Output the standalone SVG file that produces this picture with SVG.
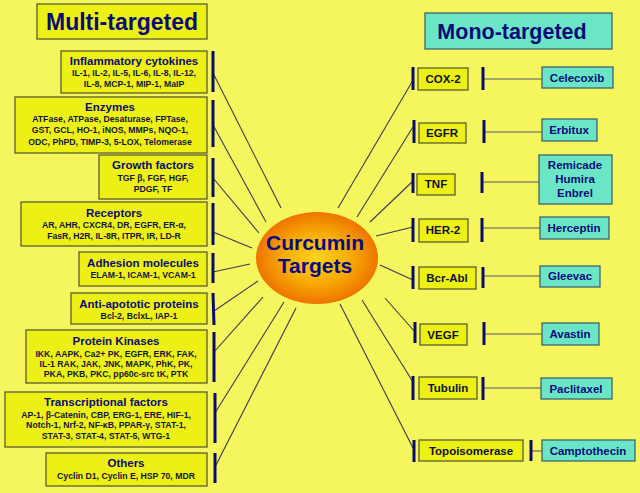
<svg xmlns="http://www.w3.org/2000/svg" width="640" height="493" viewBox="0 0 640 493">
<style>
text{font-family:"Liberation Sans",Arial,sans-serif;font-weight:bold;text-anchor:middle}
.yb{fill:#ecf014;stroke:#5c5c34;stroke-width:1.3}
.ab{fill:#6ae6c6;stroke:#3c6470;stroke-width:1.3}
.ttl{fill:#0b0b78;font-size:23px}
.h{fill:#0b0b70;font-size:11.5px}
.d{fill:#15153a;font-size:8.7px}
.r{fill:#101030;font-size:11.5px}
.m{fill:#0b0b78;font-size:11.5px}
.bar{stroke:#0a0a6a;stroke-width:3}
.ln{stroke:#3a3a55;stroke-width:1.1;fill:none}
.hl{stroke:#55556a;stroke-width:1.1}
</style>
<defs>
<radialGradient id="g" cx="0.5" cy="0.5" r="0.5">
<stop offset="0" stop-color="#fbd21c"/>
<stop offset="0.55" stop-color="#f7ab05"/>
<stop offset="1" stop-color="#ee7400"/>
</radialGradient>
</defs>
<rect width="640" height="493" fill="#f5f55e"/>

<g id="connectors">
<line class="ln" x1="213" y1="73" x2="281" y2="208"/>
<line class="ln" x1="213" y1="125" x2="266" y2="222"/>
<line class="ln" x1="213" y1="178" x2="259" y2="233"/>
<line class="ln" x1="213" y1="232" x2="252" y2="248"/>
<line class="ln" x1="213" y1="272" x2="250" y2="264"/>
<line class="ln" x1="214" y1="311" x2="258" y2="281"/>
<line class="ln" x1="214" y1="352" x2="263" y2="297"/>
<line class="ln" x1="215" y1="413" x2="284" y2="302"/>
<line class="ln" x1="215" y1="467" x2="296" y2="308"/>
<line class="ln" x1="338" y1="208" x2="412" y2="82"/>
<line class="ln" x1="357" y1="217" x2="413" y2="127"/>
<line class="ln" x1="370" y1="222" x2="412" y2="182"/>
<line class="ln" x1="376" y1="236" x2="413" y2="227"/>
<line class="ln" x1="380" y1="265" x2="413" y2="280"/>
<line class="ln" x1="385" y1="298" x2="415" y2="332"/>
<line class="ln" x1="362" y1="300" x2="413" y2="382"/>
<line class="ln" x1="340" y1="304" x2="413" y2="448"/>
<line class="hl" x1="483" y1="79" x2="542" y2="79"/>
<line class="hl" x1="484" y1="132" x2="542" y2="132"/>
<line class="hl" x1="482" y1="182" x2="539" y2="182"/>
<line class="hl" x1="482" y1="228" x2="540" y2="228"/>
<line class="hl" x1="483" y1="276" x2="540" y2="276"/>
<line class="hl" x1="484" y1="334" x2="542" y2="334"/>
<line class="hl" x1="483" y1="388" x2="541" y2="388"/>
<line class="hl" x1="531" y1="451" x2="542" y2="451"/>
<line class="bar" x1="213" y1="51" x2="213" y2="92"/>
<line class="bar" x1="213" y1="100" x2="213" y2="147"/>
<line class="bar" x1="213" y1="158" x2="213" y2="197"/>
<line class="bar" x1="213" y1="203" x2="213" y2="245"/>
<line class="bar" x1="213" y1="253" x2="213" y2="283"/>
<line class="bar" x1="213" y1="293" x2="214" y2="325"/>
<line class="bar" x1="214" y1="332" x2="214" y2="382"/>
<line class="bar" x1="215" y1="393" x2="215" y2="443"/>
<line class="bar" x1="215" y1="453" x2="215" y2="483"/>
<line class="bar" x1="413" y1="67" x2="413" y2="90"/>
<line class="bar" x1="483" y1="67" x2="483" y2="90"/>
<line class="bar" x1="414" y1="120" x2="414" y2="143"/>
<line class="bar" x1="484" y1="120" x2="484" y2="143"/>
<line class="bar" x1="413" y1="173" x2="413" y2="193"/>
<line class="bar" x1="482" y1="172" x2="482" y2="193"/>
<line class="bar" x1="413" y1="218" x2="413" y2="242"/>
<line class="bar" x1="482" y1="218" x2="482" y2="242"/>
<line class="bar" x1="413" y1="266" x2="413" y2="289"/>
<line class="bar" x1="483" y1="267" x2="483" y2="288"/>
<line class="bar" x1="415" y1="322" x2="415" y2="343"/>
<line class="bar" x1="484" y1="322" x2="484" y2="345"/>
<line class="bar" x1="413" y1="376" x2="413" y2="400"/>
<line class="bar" x1="483" y1="377" x2="483" y2="400"/>
<line class="bar" x1="414" y1="440" x2="414" y2="462"/>
<line class="bar" x1="531" y1="440" x2="531" y2="461"/>
</g>

<g id="multi-targeted">
<rect class="yb" x="37" y="4" width="170" height="35"/>
<text class="ttl" x="122" y="30">Multi-targeted</text>
</g>
<g id="mono-targeted">
<rect class="ab" x="425" y="13" width="187" height="36"/>
<text class="ttl" x="512" y="39" style="font-size:21.5px">Mono-targeted</text>
</g>

<g id="center">
<ellipse cx="317" cy="258" rx="61" ry="46" fill="url(#g)"/>
<text x="315" y="250" style="fill:#0a0a80;font-size:21px">Curcumin</text>
<text x="315" y="273" style="fill:#0a0a80;font-size:21px">Targets</text>
</g>

<g id="inflammatory">
<rect class="yb" x="61" y="51" width="146" height="42"/>
<text class="h" x="134" y="65">Inflammatory cytokines</text>
<text class="d" x="134" y="76">IL-1, IL-2, IL-5, IL-6, IL-8, IL-12,</text>
<text class="d" x="134" y="87">IL-8, MCP-1, MIP-1, MaIP</text>
</g>
<g id="enzymes">
<rect class="yb" x="15" y="97" width="192" height="56"/>
<text class="h" x="110" y="111">Enzymes</text>
<text class="d" x="110" y="122">ATFase, ATPase, Desaturase, FPTase,</text>
<text class="d" x="110" y="133">GST, GCL, HO-1, iNOS, MMPs, NQO-1,</text>
<text class="d" x="110" y="145">ODC, PhPD, TIMP-3, 5-LOX, Telomerase</text>
</g>
<g id="growth">
<rect class="yb" x="99" y="155" width="108" height="44"/>
<text class="h" x="153" y="169">Growth factors</text>
<text class="d" x="153" y="181">TGF β, FGF, HGF,</text>
<text class="d" x="153" y="192">PDGF, TF</text>
</g>
<g id="receptors">
<rect class="yb" x="21" y="202" width="186" height="44"/>
<text class="h" x="114" y="217">Receptors</text>
<text class="d" x="114" y="228">AR, AHR, CXCR4, DR, EGFR, ER-α,</text>
<text class="d" x="114" y="239">FasR, H2R, IL-8R, ITPR, IR, LD-R</text>
</g>
<g id="adhesion">
<rect class="yb" x="79" y="252" width="128" height="34"/>
<text class="h" x="143" y="267">Adhesion molecules</text>
<text class="d" x="143" y="278">ELAM-1, ICAM-1, VCAM-1</text>
</g>
<g id="antiapoptotic">
<rect class="yb" x="71" y="293" width="136" height="31"/>
<text class="h" x="139" y="308">Anti-apototic proteins</text>
<text class="d" x="139" y="319">Bcl-2, BclxL, IAP-1</text>
</g>
<g id="kinases">
<rect class="yb" x="26" y="330" width="181" height="53"/>
<text class="h" x="116" y="345">Protein Kinases</text>
<text class="d" x="116" y="357">IKK, AAPK, Ca2+ PK, EGFR, ERK, FAK,</text>
<text class="d" x="116" y="367">IL-1 RAK, JAK, JNK, MAPK, PhK, PK,</text>
<text class="d" x="116" y="377">PKA, PKB, PKC, pp60c-src tK, PTK</text>
</g>
<g id="transcriptional">
<rect class="yb" x="5" y="392" width="202" height="55"/>
<text class="h" x="106" y="406">Transcriptional factors</text>
<text class="d" x="106" y="418">AP-1, β-Catenin, CBP, ERG-1, ERE, HIF-1,</text>
<text class="d" x="106" y="428">Notch-1, Nrf-2, NF-κB, PPAR-γ,  STAT-1,</text>
<text class="d" x="106" y="439">STAT-3, STAT-4, STAT-5, WTG-1</text>
</g>
<g id="others">
<rect class="yb" x="46" y="453" width="161" height="33"/>
<text class="h" x="126" y="467">Others</text>
<text class="d" x="126" y="479">Cyclin D1, Cyclin E,  HSP 70, MDR</text>
</g>

<g id="cox2"><rect class="yb" x="418" y="68" width="50" height="22"/><text class="r" x="443" y="83">COX-2</text></g>
<g id="celecoxib"><rect class="ab" x="542" y="67" width="71" height="21"/><text class="m" x="577" y="82">Celecoxib</text></g>
<g id="egfr"><rect class="yb" x="419" y="123" width="47" height="20"/><text class="r" x="442" y="137">EGFR</text></g>
<g id="erbitux"><rect class="ab" x="542" y="119" width="55" height="22"/><text class="m" x="569" y="134">Erbitux</text></g>
<g id="tnf"><rect class="yb" x="417" y="174" width="38" height="21"/><text class="r" x="436" y="188">TNF</text></g>
<g id="remicade"><rect class="ab" x="539" y="155" width="73" height="49"/>
<text class="m" x="575" y="169">Remicade</text><text class="m" x="575" y="183">Humira</text><text class="m" x="575" y="197">Enbrel</text></g>
<g id="her2"><rect class="yb" x="419" y="219" width="49" height="23"/><text class="r" x="443" y="234">HER-2</text></g>
<g id="herceptin"><rect class="ab" x="540" y="217" width="69" height="22"/><text class="m" x="574" y="232">Herceptin</text></g>
<g id="bcrabl"><rect class="yb" x="419" y="267" width="57" height="22"/><text class="r" x="447" y="282">Bcr-Abl</text></g>
<g id="gleevac"><rect class="ab" x="540" y="266" width="60" height="21"/><text class="m" x="570" y="280">Gleevac</text></g>
<g id="vegf"><rect class="yb" x="420" y="324" width="47" height="21"/><text class="r" x="443" y="339">VEGF</text></g>
<g id="avastin"><rect class="ab" x="542" y="323" width="57" height="22"/><text class="m" x="570" y="338">Avastin</text></g>
<g id="tubulin"><rect class="yb" x="419" y="377" width="58" height="22"/><text class="r" x="448" y="392">Tubulin</text></g>
<g id="paclitaxel"><rect class="ab" x="541" y="378" width="71" height="21"/><text class="m" x="576" y="393">Paclitaxel</text></g>
<g id="topoisomerase"><rect class="yb" x="419" y="440" width="104" height="21"/><text class="r" x="471" y="455">Topoisomerase</text></g>
<g id="camptothecin"><rect class="ab" x="542" y="440" width="93" height="21"/><text class="m" x="588" y="455">Camptothecin</text></g>
</svg>
